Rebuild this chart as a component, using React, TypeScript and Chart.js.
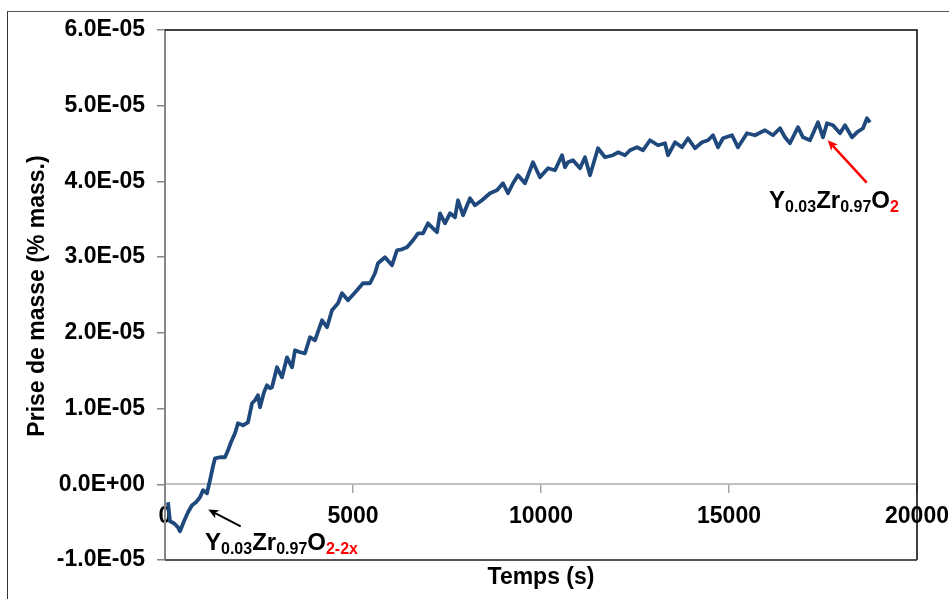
import React, { useEffect, useRef } from 'react';
import { Chart, registerables } from 'chart.js';

Chart.register(...registerables);

const FONT = '"Liberation Sans", Arial, Helvetica, sans-serif';

// Time (s)
const timeS = [
  80, 133, 239, 346, 399, 505, 612, 718, 824, 931,
  1011, 1117, 1197, 1277, 1330, 1463, 1596, 1676, 1755, 1862,
  1941, 2074, 2207, 2314, 2394, 2473, 2527, 2633, 2713, 2793,
  2846, 2979, 3112, 3245, 3378, 3457, 3590, 3723, 3856, 3989,
  4176, 4309, 4441, 4601, 4707, 4867, 5106, 5266, 5452, 5585,
  5665, 5851, 6037, 6170, 6303, 6436, 6596, 6729, 6862, 6995,
  7128, 7234, 7314, 7447, 7580, 7713, 7793, 7926, 8112, 8245,
  8431, 8644, 8830, 8989, 9122, 9255, 9388, 9574, 9787, 9973,
  10186, 10372, 10559, 10638, 10718, 10851, 11037, 11170, 11303, 11516,
  11702, 11915, 12048, 12234, 12367, 12553, 12713, 12899, 13112, 13298,
  13378, 13564, 13750, 13910, 14096, 14282, 14441, 14574, 14707, 14840,
  15080, 15239, 15479, 15691, 15957, 16170, 16356, 16489, 16622, 16835,
  16968, 17154, 17367, 17500, 17606, 17766, 17952, 18085, 18271, 18404,
  18564, 18670, 18750,
];

// Prise de masse (% mass.)
const massGain = [
  -0.238e-5, -0.489e-5, -0.515e-5, -0.568e-5, -0.621e-5, -0.489e-5, -0.370e-5, -0.277e-5, -0.238e-5, -0.172e-5,
  -0.079e-5, -0.119e-5, 0.053e-5, 0.238e-5, 0.343e-5, 0.357e-5, 0.357e-5, 0.449e-5, 0.555e-5, 0.674e-5,
  0.806e-5, 0.779e-5, 0.819e-5, 1.070e-5, 1.110e-5, 1.176e-5, 1.017e-5, 1.215e-5, 1.308e-5, 1.268e-5,
  1.281e-5, 1.545e-5, 1.413e-5, 1.677e-5, 1.545e-5, 1.770e-5, 1.744e-5, 1.730e-5, 1.942e-5, 1.902e-5,
  2.166e-5, 2.074e-5, 2.298e-5, 2.391e-5, 2.523e-5, 2.430e-5, 2.562e-5, 2.655e-5, 2.655e-5, 2.787e-5,
  2.919e-5, 2.998e-5, 2.893e-5, 3.091e-5, 3.104e-5, 3.130e-5, 3.223e-5, 3.315e-5, 3.315e-5, 3.447e-5,
  3.381e-5, 3.329e-5, 3.579e-5, 3.447e-5, 3.579e-5, 3.527e-5, 3.751e-5, 3.553e-5, 3.778e-5, 3.685e-5,
  3.751e-5, 3.844e-5, 3.883e-5, 3.976e-5, 3.844e-5, 3.976e-5, 4.081e-5, 3.976e-5, 4.253e-5, 4.055e-5,
  4.174e-5, 4.147e-5, 4.346e-5, 4.187e-5, 4.253e-5, 4.280e-5, 4.174e-5, 4.319e-5, 4.081e-5, 4.438e-5,
  4.319e-5, 4.346e-5, 4.385e-5, 4.346e-5, 4.412e-5, 4.451e-5, 4.412e-5, 4.544e-5, 4.478e-5, 4.504e-5,
  4.346e-5, 4.517e-5, 4.451e-5, 4.570e-5, 4.438e-5, 4.517e-5, 4.544e-5, 4.610e-5, 4.451e-5, 4.570e-5,
  4.610e-5, 4.451e-5, 4.636e-5, 4.610e-5, 4.676e-5, 4.610e-5, 4.702e-5, 4.583e-5, 4.504e-5, 4.716e-5,
  4.583e-5, 4.544e-5, 4.781e-5, 4.583e-5, 4.768e-5, 4.742e-5, 4.636e-5, 4.742e-5, 4.583e-5, 4.649e-5,
  4.702e-5, 4.834e-5, 4.781e-5,
];

const xTickValues = [0, 5000, 10000, 15000, 20000];
const yTickValues = [-1e-5, 0, 1e-5, 2e-5, 3e-5, 4e-5, 5e-5, 6e-5];

const xTitle = 'Temps (s)';
const yTitle = 'Prise de masse (% mass.)';

type Part = { t: string; sub?: boolean; red?: boolean };
const labelStart: Part[] = [
  { t: 'Y' }, { t: '0.03', sub: true }, { t: 'Zr' }, { t: '0.97', sub: true }, { t: 'O' }, { t: '2-2x', sub: true, red: true },
];
const labelEnd: Part[] = [
  { t: 'Y' }, { t: '0.03', sub: true }, { t: 'Zr' }, { t: '0.97', sub: true }, { t: 'O' }, { t: '2', sub: true, red: true },
];

// annotations in data coordinates
const annotations = [
  { head: [1152, -0.334e-5], tail: [2013, -0.555e-5], color: '#000000', text: labelStart, textAt: [1064, -0.872e-5] },
  { head: [17625, 4.544e-5], tail: [18662, 3.985e-5], color: '#FF0000', text: labelEnd, textAt: [16064, 3.645e-5] },
];

function fmtExp(v: number): string {
  if (Math.abs(v) < 1e-15) return '0.0E+00';
  const [m, e] = v.toExponential(1).split('e');
  const n = parseInt(e, 10);
  return m + 'E' + (n < 0 ? '-' : '+') + String(Math.abs(n)).padStart(2, '0');
}

function drawArrow(ctx: CanvasRenderingContext2D, x1: number, y1: number, x2: number, y2: number, color: string, width: number) {
  const ang = Math.atan2(y2 - y1, x2 - x1);
  const head = 11;
  ctx.strokeStyle = color;
  ctx.fillStyle = color;
  ctx.lineWidth = width;
  ctx.beginPath();
  ctx.moveTo(x1, y1);
  ctx.lineTo(x2 - head * 0.7 * Math.cos(ang), y2 - head * 0.7 * Math.sin(ang));
  ctx.stroke();
  ctx.beginPath();
  ctx.moveTo(x2, y2);
  ctx.lineTo(x2 - head * Math.cos(ang - 0.42), y2 - head * Math.sin(ang - 0.42));
  ctx.lineTo(x2 - head * 0.7 * Math.cos(ang), y2 - head * 0.7 * Math.sin(ang));
  ctx.lineTo(x2 - head * Math.cos(ang + 0.42), y2 - head * Math.sin(ang + 0.42));
  ctx.closePath();
  ctx.fill();
}

function drawRich(ctx: CanvasRenderingContext2D, x: number, y: number, parts: Part[]) {
  let cx = x;
  ctx.textAlign = 'left';
  ctx.textBaseline = 'alphabetic';
  for (const p of parts) {
    ctx.font = `bold ${p.sub ? 16 : 24}px ${FONT}`;
    ctx.fillStyle = p.red ? '#FF0000' : '#000000';
    ctx.fillText(p.t, cx, y + (p.sub ? 4 : 0));
    cx += ctx.measureText(p.t).width;
  }
}

const overlayPlugin = {
  id: 'overlay',
  afterDraw(chart: any) {
    const { ctx, chartArea: a, scales } = chart;
    const xs = scales.x;
    const ys = scales.y;
    ctx.save();
    // plot area frame (top, right, bottom)
    ctx.strokeStyle = '#000000';
    ctx.lineWidth = 1.5;
    ctx.beginPath();
    ctx.moveTo(a.left, a.top);
    ctx.lineTo(a.right, a.top);
    ctx.lineTo(a.right, a.bottom);
    ctx.stroke();
    ctx.strokeStyle = '#555555';
    ctx.lineWidth = 2;
    ctx.beginPath();
    ctx.moveTo(a.left, a.bottom);
    ctx.lineTo(a.right, a.bottom);
    ctx.stroke();

    // annotations
    for (const an of annotations) {
      drawArrow(
        ctx,
        xs.getPixelForValue(an.tail[0]), ys.getPixelForValue(an.tail[1]),
        xs.getPixelForValue(an.head[0]), ys.getPixelForValue(an.head[1]),
        an.color, an.color === '#000000' ? 2 : 2.5,
      );
      drawRich(ctx, xs.getPixelForValue(an.textAt[0]), ys.getPixelForValue(an.textAt[1]), an.text);
    }

    // axis titles
    ctx.fillStyle = '#000000';
    ctx.font = `bold 23px ${FONT}`;
    ctx.textAlign = 'center';
    ctx.textBaseline = 'middle';
    ctx.fillText(xTitle, (a.left + a.right) / 2, 578);
    ctx.translate(38, (a.top + a.bottom) / 2 + 1);
    ctx.rotate(-Math.PI / 2);
    ctx.fillText(yTitle, 0, 0);
    ctx.restore();
  },
};

export default function App() {
  const canvasRef = useRef<HTMLCanvasElement | null>(null);

  useEffect(() => {
    document.body.style.margin = '0';
    document.body.style.overflow = 'hidden';
    const canvas = canvasRef.current;
    if (!canvas) return;
    const tickFont = { family: FONT, size: 23, weight: 'bold' as const };
    const chart = new Chart(canvas, {
      type: 'line',
      data: {
        datasets: [
          {
            data: timeS.map((t, i) => ({ x: t, y: massGain[i] })),
            borderColor: '#1F497D',
            borderWidth: 3.8,
            pointRadius: 0,
            tension: 0,
            borderJoinStyle: 'round',
            fill: false,
          },
        ],
      },
      options: {
        responsive: false,
        animation: false,
        devicePixelRatio: 1,
        layout: { padding: { left: 0, top: 30, right: 32, bottom: 39 } },
        plugins: { legend: { display: false }, tooltip: { enabled: false } },
        scales: {
          x: {
            type: 'linear',
            position: { y: 0 } as any,
            min: 0,
            max: 20000,
            afterBuildTicks: (s: any) => {
              s.ticks = xTickValues.map((v) => ({ value: v }));
            },
            afterFit: (s: any) => {
              s.paddingLeft = 0;
              s.paddingRight = 0;
            },
            grid: { drawOnChartArea: false, drawTicks: true, tickLength: 8, color: '#a6a6a6', lineWidth: 1.5 },
            border: { display: true, color: '#bfbfbf', width: 2 },
            ticks: {
              font: tickFont,
              color: '#000000',
              padding: 11,
              maxRotation: 0,
              autoSkip: false,
              callback: (v: any) => String(v),
            },
          },
          y: {
            type: 'linear',
            position: 'left',
            min: -1e-5,
            max: 6e-5,
            afterBuildTicks: (s: any) => {
              s.ticks = yTickValues.map((v) => ({ value: v }));
            },
            afterFit: (s: any) => {
              s.width = 165;
              s.paddingTop = 0;
              s.paddingBottom = 0;
            },
            grid: { drawOnChartArea: false, drawTicks: true, tickLength: 8, color: '#868686', lineWidth: 1.5 },
            border: { display: true, color: '#868686', width: 2 },
            ticks: {
              font: tickFont,
              color: '#000000',
              padding: 12,
              autoSkip: false,
              callback: (v: any) => fmtExp(Number(v)),
            },
          },
        },
      },
      plugins: [overlayPlugin],
    });
    return () => chart.destroy();
  }, []);

  return (
    <div style={{ position: 'relative', width: 949, height: 599, overflow: 'hidden', background: '#ffffff' }}>
      <canvas ref={canvasRef} width={949} height={599} style={{ position: 'absolute', left: 0, top: 0 }} />
      <div
        style={{
          position: 'absolute',
          left: 7,
          top: 11,
          width: 2000,
          height: 2000,
          borderLeft: '1.5px solid #333333',
          borderTop: '1.5px solid #555555',
          pointerEvents: 'none',
        }}
      />
    </div>
  );
}
